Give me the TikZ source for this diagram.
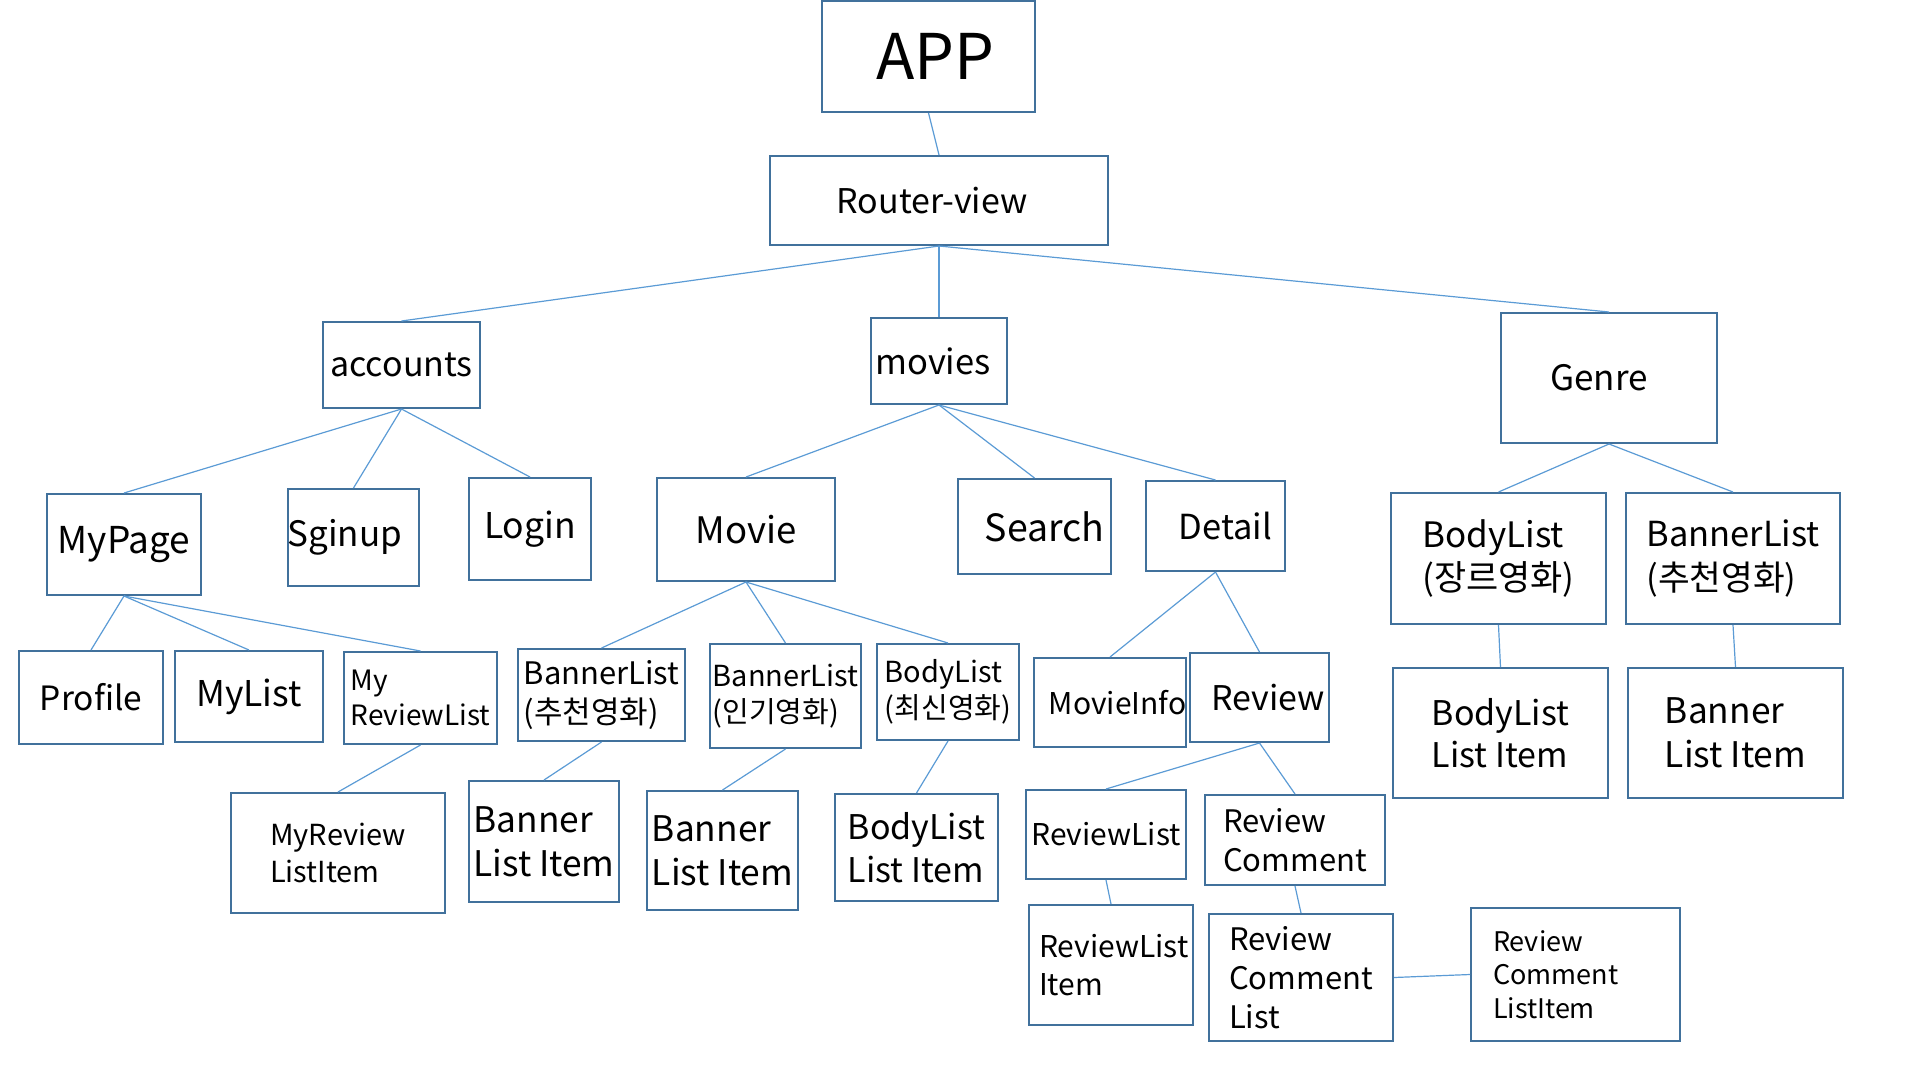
\documentclass[tikz,border=0pt]{standalone}
\usepackage{fontspec}
\setmainfont{Noto Sans CJK KR}
\usetikzlibrary{positioning}

\newcommand{\boxfont}[1]{\fontsize{#1}{\dimexpr#1pt*125/100\relax}\selectfont}
\definecolor{boxblue}{HTML}{41719C}
\definecolor{linkblue}{HTML}{5B9BD5}

\begin{document}
\begin{tikzpicture}[
x=1pt, y=-1pt,
block/.style={rectangle, draw=boxblue, line width=2pt, align=left, inner sep=0pt},
text-nudge/.style={execute at begin node={\hspace*{#1}}},
line/.style={draw=linkblue, line width=1.2pt}
]
\useasboundingbox (0,0) rectangle (1920,1080);

% top
\node [block, minimum width=213pt, minimum height=111pt, font=\boxfont{63}, text-nudge=14pt] (app) at (928.5,56.5) {APP};
\node [block, minimum width=338pt, minimum height=89pt, font=\boxfont{34}, text-nudge=-14pt] (router-view) at (939,200.5) {Router-view};

\node [block, minimum width=157pt, minimum height=86pt, font=\boxfont{34}] (accounts) at (401.5,365) {accounts};
\node [block, minimum width=136pt, minimum height=86pt, font=\boxfont{34.5}, text-nudge=-12pt] (movies) at (939,361) {movies};
\node [block, minimum width=216pt, minimum height=130pt, font=\boxfont{35}, text-nudge=-20pt] (genre) at (1609,378) {Genre};

% accounts
\node [block, minimum width=154pt, minimum height=101pt, font=\boxfont{37}] (my-page) at (124,544.5) {MyPage};
\node [block, minimum width=131pt, minimum height=97pt, font=\boxfont{35}, text-nudge=-17pt] (signup) at (353.5,537.5) {Sginup};
\node [block, minimum width=122pt, minimum height=102pt, font=\boxfont{35.5}] (login) at (530,529) {Login};

\node [block, minimum width=144pt, minimum height=93pt, font=\boxfont{33.5}] (profile) at (91,697.5) {Profile};
\node [block, minimum width=148pt, minimum height=91pt, font=\boxfont{35.5}] (my-list) at (249,696.5) {MyList};
\node [block, minimum width=153pt, minimum height=92pt, font=\boxfont{28}] (my-review-list) at (420.5,698) {My\\ReviewList};
\node [block, minimum width=214pt, minimum height=120pt, font=\boxfont{29}] (my-review-item) at (338,853) {MyReview\\ListItem};

% movies
\node [block, minimum width=178pt, minimum height=103pt, font=\boxfont{36.5}] (movie) at (746,529.5) {Movie};
\node [block, minimum width=153pt, minimum height=95pt, font=\boxfont{37.5}, text-nudge=20pt] (search) at (1034.5,526.5) {Search};
\node [block, minimum width=139pt, minimum height=90pt, font=\boxfont{34.5}, text-nudge=20pt] (detail) at (1215.5,526) {Detail};

\node [block, minimum width=167pt, minimum height=92pt, font=\boxfont{31}] (movie-banner-list) at (601.5,695) {BannerList\\(추천영화)};
\node [block, minimum width=151pt, minimum height=104pt, font=\boxfont{29}] (movie-popular-list) at (785.5,696) {BannerList\\(인기영화)};
\node [block, minimum width=142pt, minimum height=96pt, font=\boxfont{29}] (movie-latest-list) at (948,692) {BodyList\\(최신영화)};

\node [block, minimum width=150pt, minimum height=121pt, font=\boxfont{35.3}] (movie-banner-item) at (544,841.5) {Banner\\List Item};
\node [block, minimum width=151pt, minimum height=119pt, font=\boxfont{35.3}] (movie-popular-item) at (722.5,850.5) {Banner\\List Item};
\node [block, minimum width=163pt, minimum height=107pt, font=\boxfont{34}] (movie-latest-item) at (916.5,847.5) {BodyList\\List Item};

% detail
\node [block, minimum width=140pt, minimum height=89pt, font=\boxfont{30}, text-nudge=15pt] (movie-info) at (1110,702.5) {MovieInfo};
\node [block, minimum width=139pt, minimum height=89pt, font=\boxfont{34}, text-nudge=17pt] (review) at (1259.5,697.5) {Review};
\node [block, minimum width=160pt, minimum height=89pt, font=\boxfont{30}] (review-list) at (1106,834.5) {ReviewList};
\node [block, minimum width=180pt, minimum height=90pt, font=\boxfont{31}] (review-comment) at (1295,840) {Review\\Comment};
\node [block, minimum width=164pt, minimum height=120pt, font=\boxfont{30}, text width=144pt] (review-list-item) at (1111,965) {ReviewList\\Item};
\node [block, minimum width=184pt, minimum height=127pt, font=\boxfont{31}] (review-comment-list) at (1301,977.5) {Review\\Comment\\List};
\node [block, minimum width=209pt, minimum height=133pt, font=\boxfont{27}, text width=165pt] (review-comment-item) at (1575.5,974.5) {Review\\Comment\\ListItem};

% genre
\node [block, minimum width=215pt, minimum height=131pt, font=\boxfont{35}] (genre-body-list) at (1498.5,558.5) {BodyList\\(장르영화)};
\node [block, minimum width=214pt, minimum height=131pt, font=\boxfont{34.5}] (genre-banner-list) at (1733,558.5) {BannerList\\(추천영화)};
\node [block, minimum width=215pt, minimum height=130pt, font=\boxfont{34}] (genre-body-item) at (1500.5,733) {BodyList\\List Item};
\node [block, minimum width=215pt, minimum height=130pt, font=\boxfont{35.3}] (genre-banner-item) at (1735.5,733) {Banner\\List Item};

\path [line] (app.south) -- (router-view.north);
\path [line] (router-view.south) -- (accounts.north);
\path [line] (router-view.south) -- (movies.north);
\path [line] (router-view.south) -- (genre.north);

\path [line] (accounts.south) -- (my-page.north);
\path [line] (accounts.south) -- (signup.north);
\path [line] (accounts.south) -- (login.north);
\path [line] (my-page.south) -- (profile.north);
\path [line] (my-page.south) -- (my-list.north);
\path [line] (my-page.south) -- (my-review-list.north);
\path [line] (my-review-list.south) -- (my-review-item.north);

\path [line] (movies.south) -- (movie.north);
\path [line] (movies.south) -- (search.north);
\path [line] (movies.south) -- (detail.north);
\path [line] (movie.south) -- (movie-banner-list.north);
\path [line] (movie.south) -- (movie-popular-list.north);
\path [line] (movie.south) -- (movie-latest-list.north);
\path [line] (movie-banner-list.south) -- (movie-banner-item.north);
\path [line] (movie-popular-list.south) -- (movie-popular-item.north);
\path [line] (movie-latest-list.south) -- (movie-latest-item.north);

\path [line] (detail.south) -- (movie-info.north);
\path [line] (detail.south) -- (review.north);
\path [line] (review.south) -- (review-list.north);
\path [line] (review.south) -- (review-comment.north);
\path [line] (review-list.south) -- (review-list-item.north);
\path [line] (review-comment.south) -- (review-comment-list.north);
\path [line] (review-comment-list.east) -- (review-comment-item.west);

\path [line] (genre.south) -- (genre-body-list.north);
\path [line] (genre.south) -- (genre-banner-list.north);
\path [line] (genre-body-list.south) -- (genre-body-item.north);
\path [line] (genre-banner-list.south) -- (genre-banner-item.north);

\end{tikzpicture}
\end{document}
